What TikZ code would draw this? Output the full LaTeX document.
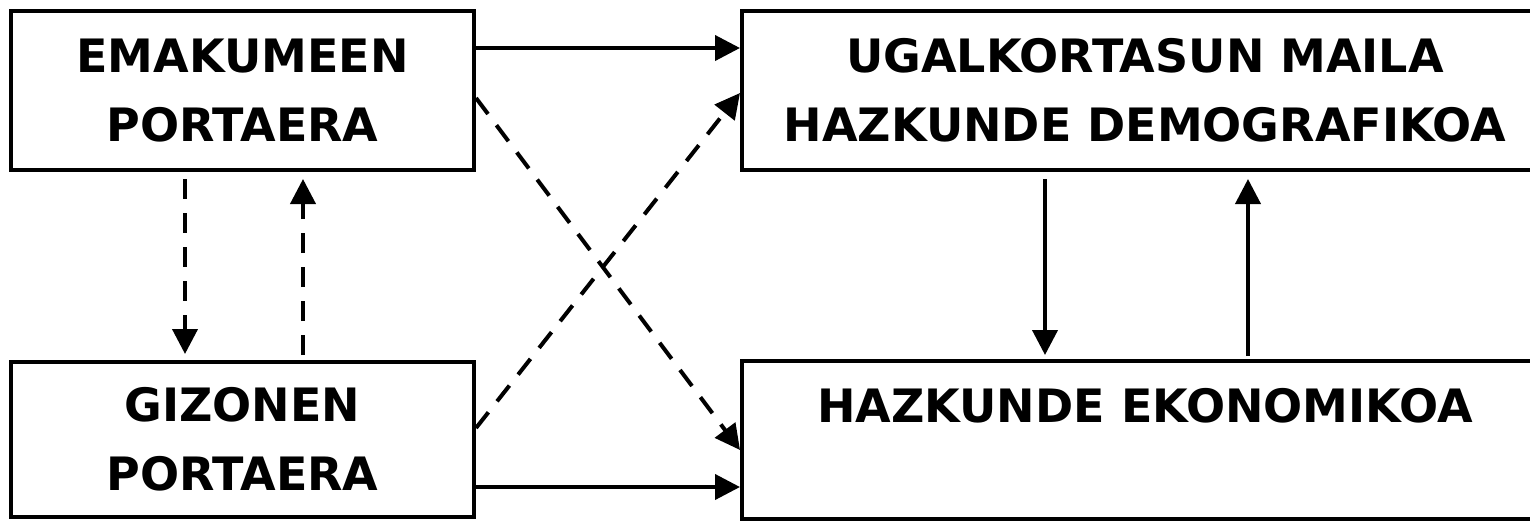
\documentclass[tikz,border=0pt]{standalone}
\usepackage{fontspec}
\setmainfont{DejaVu Sans}
\usetikzlibrary{arrows.meta}

\begin{document}
\begin{tikzpicture}[x=0.5pt, y=-0.5pt, line width=2pt,
  every node/.style={draw, rectangle, line width=2pt, align=center, font=\fontsize{23}{34.5}\selectfont\bfseries},
  dashline/.style={dash pattern=on 10pt off 7pt},
  >={Triangle[length=12.5pt,width=12.5pt]}]
  \clip (0,0) rectangle (1530,520);
  \node[minimum width=231.5pt, minimum height=79.5pt] (emak) at (242.5,90.5) {EMAKUMEEN\\PORTAERA};
  \node[minimum width=231.5pt, minimum height=77.5pt] (gizon) at (242.5,439.5) {GIZONEN\\PORTAERA};
  \node[minimum width=403pt, minimum height=79.5pt] (ugal) at (1145,90.5) {UGALKORTASUN MAILA\\HAZKUNDE DEMOGRAFIKOA};
  \node[minimum width=403pt, minimum height=79pt] (ekon) at (1145,440) {HAZKUNDE EKONOMIKOA\\~};
  % Draw the influences
  \draw[->] ([yshift=21.25pt]emak.east) -- ([yshift=21.25pt]ugal.west);
  \draw[->] ([yshift=-23.75pt]gizon.east) -- ([yshift=-23.5pt]ekon.west);
  \draw[->, dashline] ([yshift=-3.75pt]emak.east) -- ([yshift=-5pt]ekon.west);
  \draw[->, dashline] ([yshift=5.75pt]gizon.east) -- ([yshift=-1.25pt]ugal.west);
  \draw[->, dashline] ([xshift=-28.75pt,yshift=-3.5pt]emak.south) -- ([xshift=-28.75pt,yshift=3pt]gizon.north);
  \draw[->, dashline] ([xshift=30.25pt,yshift=2.5pt]gizon.north) -- ([xshift=30.25pt,yshift=-3.5pt]emak.south);
  \draw[->] ([xshift=-50pt,yshift=-3.5pt]ugal.south) -- ([xshift=-50pt,yshift=2pt]ekon.north);
  \draw[->] ([xshift=51.5pt,yshift=1.5pt]ekon.north) -- ([xshift=51.5pt,yshift=-3.5pt]ugal.south);
\end{tikzpicture}
\end{document}
